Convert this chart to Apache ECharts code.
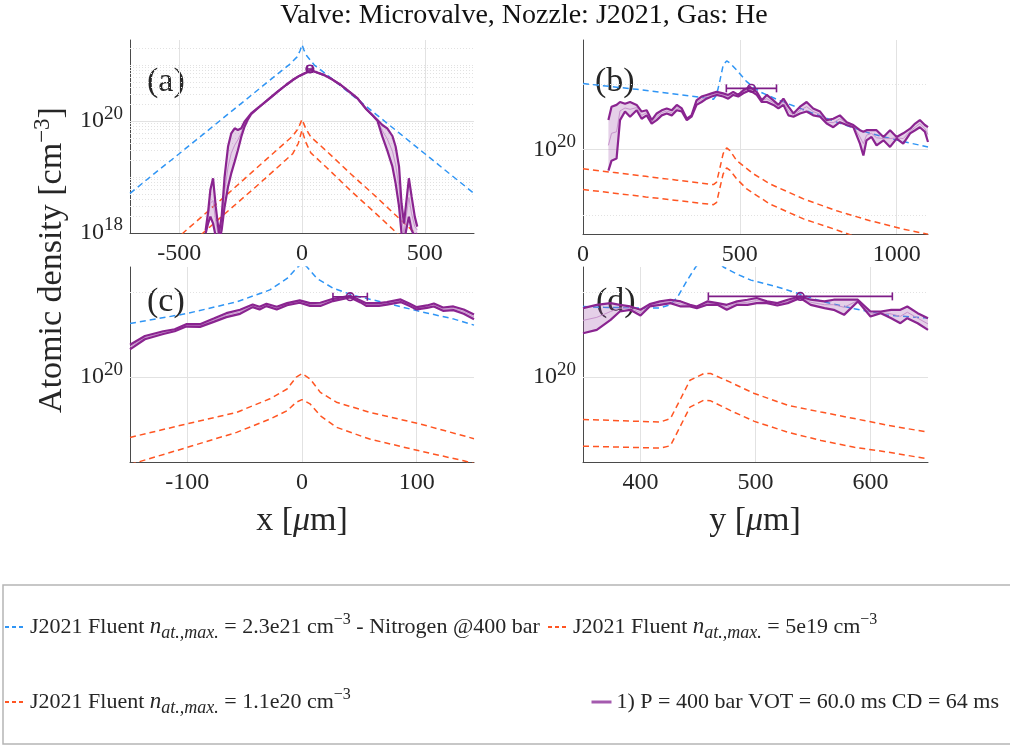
<!DOCTYPE html>
<html><head><meta charset="utf-8">
<script src="https://cdn.jsdelivr.net/npm/echarts@6/dist/echarts.min.js"></script>
<style>html,body{margin:0;padding:0;background:#fff}#c{width:1010px;height:747px}</style>
</head><body><div id="c"></div>
<script>
// ---------------- data ----------------
// panel (a): x-profile, x in um
const aBlueX = [-700,-600,-500,-400,-300,-200,-100,-50,-20,-8,0,8,20,50,100,200,300,400,500,600,700];
const aBlueY = [5.1e18,1.16e19,2.6e19,5.9e19,1.34e20,3.04e20,6.9e20,1.03e21,1.4e21,1.8e21,2.3e21,1.85e21,1.45e21,1.0e21,6.8e20,3.0e20,1.33e20,5.9e19,2.6e19,1.15e19,5.1e18];
const aOrHiX = [-550,-484,-400,-300,-200,-100,-38,-15,0,15,36,100,200,300,400,462,520];
const aOrHiY = [5.6e17,1.0e18,2.1e18,5.1e18,1.26e19,3.1e19,5.4e19,7.4e19,1.07e20,7.4e19,5.2e19,2.9e19,1.12e19,4.5e18,1.74e18,9.8e17,5.6e17];
const aOrLoX = [-470,-403,-300,-200,-100,-38,-15,0,15,36,100,200,300,388,450];
const aOrLoY = [5.5e17,1.0e18,2.5e18,6.0e18,1.48e19,2.6e19,4.0e19,6.9e19,4.2e19,2.7e19,1.48e19,5.6e18,2.24e18,9.8e17,5.5e17];
const aX   = [-392,-382,-373,-362,-351,-338,-327,-315,-301,-288,-274,-261,-247,-234,-220,-207,-173,-132,-99,-65,-38,-11,16,36,64,91,124,158,192,226,259,286,307,327,347,368,381,395,405,415,424,435,446,459,469];
const aUp  = [1.13e18,2.4e18,5.9e18,9.5e18,2.95e18,9.9e17,1.96e18,1.01e19,3.5e19,6.0e19,7.4e19,6.9e19,7.4e19,9.7e19,1.16e20,1.37e20,1.80e20,2.54e20,3.34e20,4.4e20,5.4e20,6.4e20,7.3e20,8.1e20,7.3e20,6.6e20,5.5e20,4.4e20,3.34e20,2.54e20,1.68e20,1.28e20,1.04e20,8.5e19,7.4e19,5.4e19,3.5e19,1.53e19,3.4e18,1.49e18,3.4e18,9.5e18,4.5e18,1.96e18,1.3e18];
const aLo  = [9.9e17,1.49e18,1.96e18,1.49e18,8.6e17,6.5e17,1.13e18,2.95e18,6.7e18,1.16e19,1.88e19,3.0e19,5.25e19,7.9e19,1.07e20,1.33e20,1.80e20,2.54e20,3.34e20,4.4e20,5.4e20,6.4e20,7.3e20,8.1e20,7.3e20,6.6e20,5.5e20,4.4e20,3.34e20,2.54e20,1.68e20,1.28e20,1.01e20,5.25e19,3.0e19,1.53e19,7.7e18,2.95e18,9.9e17,6.5e17,1.13e18,1.96e18,1.13e18,8.6e17,9.9e17];
const aMid = [1.06e18,1.89e18,3.4e18,3.8e18,1.6e18,8e17,1.49e18,5.5e18,1.5e19,2.65e19,3.7e19,4.6e19,6.2e19,8.8e19,1.11e20,1.35e20,1.80e20,2.54e20,3.34e20,4.4e20,5.4e20,6.4e20,7.3e20,8.1e20,7.3e20,6.6e20,5.5e20,4.4e20,3.34e20,2.54e20,1.68e20,1.28e20,1.03e20,6.7e19,4.8e19,2.9e19,1.65e19,6.7e18,1.8e18,9.9e17,1.96e18,4.3e18,2.2e18,1.3e18,1.13e18];

// panel (b): y-profile, y in um
const bBlueX = [0,171,277,384,416,426,437,447,458,469,490,522,564,617,703,809,915,1021,1100];
const bBlueY = [2.02e20,1.90e20,1.82e20,1.74e20,1.71e20,1.79e20,2.10e20,2.46e20,2.57e20,2.51e20,2.33e20,2.06e20,1.85e20,1.71e20,1.53e20,1.34e20,1.19e20,1.09e20,1.03e20];
const bOrHiX = [0,100,200,300,416,426,437,447,458,469,490,543,596,703,809,915,1021,1100];
const bOrHiY = [8.17e19,7.84e19,7.53e19,7.23e19,6.9e19,7.08e19,8.3e19,9.6e19,1.02e20,9.9e19,8.9e19,7.74e19,6.95e19,5.93e19,5.22e19,4.7e19,4.3e19,4.07e19];
const bOrLoX = [0,100,200,300,416,426,437,447,458,469,490,522,596,703,809,851,915];
const bOrLoY = [6.55e19,6.3e19,6.05e19,5.83e19,5.57e19,5.71e19,6.71e19,7.74e19,8.24e19,8.02e19,7.33e19,6.59e19,5.61e19,4.79e19,4.26e19,4.05e19,3.79e19];
const bX   = [81,91,107,118,134,150,171,187,203,219,235,251,267,283,299,315,331,346,362,378,394,410,426,447,463,479,495,511,532,554,570,586,607,623,639,655,671,692,713,734,756,777,798,819,841,862,883,894,904,920,936,958,979,1000,1021,1043,1059,1074,1090,1100];
const bUp  = [1.37e20,1.58e20,1.61e20,1.66e20,1.63e20,1.66e20,1.61e20,1.50e20,1.52e20,1.37e20,1.47e20,1.52e20,1.55e20,1.52e20,1.61e20,1.55e20,1.39e20,1.44e20,1.69e20,1.76e20,1.79e20,1.82e20,1.85e20,1.82e20,1.79e20,1.85e20,1.79e20,1.88e20,1.95e20,1.85e20,1.69e20,1.79e20,1.69e20,1.61e20,1.72e20,1.58e20,1.47e20,1.58e20,1.66e20,1.55e20,1.50e20,1.37e20,1.39e20,1.44e20,1.34e20,1.30e20,1.23e20,1.21e20,1.23e20,1.23e20,1.23e20,1.145e20,1.23e20,1.145e20,1.19e20,1.25e20,1.32e20,1.37e20,1.30e20,1.27e20];
const bLo  = [8.0e19,8.9e19,9.1e19,1.37e20,1.50e20,1.42e20,1.52e20,1.39e20,1.44e20,1.32e20,1.37e20,1.44e20,1.47e20,1.44e20,1.52e20,1.50e20,1.37e20,1.42e20,1.61e20,1.66e20,1.72e20,1.76e20,1.79e20,1.76e20,1.72e20,1.79e20,1.76e20,1.82e20,1.88e20,1.79e20,1.66e20,1.66e20,1.61e20,1.55e20,1.61e20,1.44e20,1.42e20,1.47e20,1.50e20,1.44e20,1.42e20,1.32e20,1.27e20,1.34e20,1.30e20,1.27e20,1.066e20,9.4e19,1.105e20,1.145e20,1.047e20,1.105e20,1.03e20,1.125e20,1.066e20,1.19e20,1.23e20,1.27e20,1.21e20,1.085e20];
const bMid = [1.047e20,1.19e20,1.21e20,1.51e20,1.558e20,1.536e20,1.564e20,1.44e20,1.482e20,1.34e20,1.42e20,1.482e20,1.509e20,1.482e20,1.564e20,1.52e20,1.38e20,1.43e20,1.649e20,1.709e20,1.76e20,1.79e20,1.82e20,1.79e20,1.76e20,1.82e20,1.772e20,1.85e20,1.92e20,1.82e20,1.68e20,1.72e20,1.649e20,1.58e20,1.66e20,1.509e20,1.44e20,1.52e20,1.58e20,1.50e20,1.456e20,1.34e20,1.332e20,1.39e20,1.32e20,1.285e20,1.145e20,1.066e20,1.166e20,1.19e20,1.135e20,1.125e20,1.125e20,1.135e20,1.125e20,1.218e20,1.27e20,1.32e20,1.25e20,1.176e20];

// panel (c): x-profile zoom
const cBlueX = [-150,-101,-57,-28,-13,-5,0,4,13,27,45,74,103,132,150];
const cBlueY = [1.55e20,1.68e20,1.85e20,2.04e20,2.24e20,2.43e20,2.54e20,2.47e20,2.24e20,2.07e20,1.95e20,1.83e20,1.71e20,1.61e20,1.53e20];
const cOrHiX = [-150,-101,-57,-28,-13,-5,0,7,16,30,59,103,150];
const cOrHiY = [6.11e19,6.82e19,7.5e19,8.38e19,9.08e19,1.0e20,1.03e20,9.86e19,8.83e19,8.15e19,7.5e19,6.82e19,6.05e19];
const cOrLoX = [-150,-101,-57,-28,-13,-5,0,7,16,30,59,103,141,150];
const cOrLoY = [4.9e19,5.62e19,6.37e19,7.1e19,7.6e19,8.15e19,8.32e19,8.04e19,7.3e19,6.64e19,6.03e19,5.47e19,5.05e19,4.94e19];
const cX   = [-150,-137,-121,-111,-101,-89,-77,-66,-54,-43,-37,-31,-22,-13,-2,7,16,27,42,51,56,67,74,86,94,100,109,115,123,132,141,150];
const cUp  = [1.304e20,1.40e20,1.455e20,1.479e20,1.542e20,1.542e20,1.615e20,1.687e20,1.734e20,1.81e20,1.777e20,1.821e20,1.777e20,1.831e20,1.872e20,1.831e20,1.837e20,1.897e20,1.945e20,1.872e20,1.831e20,1.831e20,1.847e20,1.888e20,1.821e20,1.772e20,1.797e20,1.826e20,1.767e20,1.782e20,1.739e20,1.669e20];
const cLo  = [1.255e20,1.363e20,1.423e20,1.455e20,1.512e20,1.508e20,1.571e20,1.633e20,1.678e20,1.772e20,1.739e20,1.787e20,1.739e20,1.80e20,1.837e20,1.79e20,1.79e20,1.862e20,1.919e20,1.842e20,1.79e20,1.79e20,1.81e20,1.847e20,1.787e20,1.739e20,1.762e20,1.782e20,1.719e20,1.729e20,1.678e20,1.606e20];
const cMid = [1.28e20,1.38e20,1.44e20,1.467e20,1.527e20,1.525e20,1.593e20,1.66e20,1.706e20,1.791e20,1.758e20,1.804e20,1.758e20,1.815e20,1.855e20,1.81e20,1.813e20,1.88e20,1.932e20,1.857e20,1.81e20,1.81e20,1.828e20,1.867e20,1.804e20,1.755e20,1.78e20,1.804e20,1.743e20,1.755e20,1.708e20,1.637e20];

// panel (d): y-profile zoom
const dBlueX = [350,368,397,417,426,432,437,441,448,458,465,472,484,496,519,539,557,586,615,650];
const dBlueY = [1.78e20,1.77e20,1.76e20,1.76e20,1.81e20,1.92e20,2.08e20,2.22e20,2.46e20,2.75e20,2.65e20,2.46e20,2.32e20,2.21e20,2.09e20,1.97e20,1.86e20,1.75e20,1.66e20,1.62e20];
const dOrX   = [350,417,426,435,443,455,461,478,499,528,557,586,615,650];
const dOrHiY = [7.08e19,6.93e19,7.13e19,8.4e19,9.75e19,1.03e20,1.03e20,9.6e19,8.75e19,7.95e19,7.52e19,7.13e19,6.75e19,6.38e19];
const dOrLoY = [5.69e19,5.6e19,5.71e19,6.74e19,7.83e19,8.28e19,8.24e19,7.62e19,6.97e19,6.38e19,5.96e19,5.64e19,5.42e19,5.13e19];
const dX   = [350,362,374,382,391,400,408,417,426,435,443,449,458,467,475,484,493,501,510,519,528,539,548,560,568,577,589,600,609,618,626,632,641,650];
const dUp  = [1.758e20,1.806e20,1.831e20,1.806e20,1.782e20,1.734e20,1.816e20,1.857e20,1.883e20,1.857e20,1.806e20,1.782e20,1.857e20,1.831e20,1.806e20,1.857e20,1.883e20,1.909e20,1.857e20,1.831e20,1.883e20,1.935e20,1.883e20,1.857e20,1.883e20,1.883e20,1.883e20,1.71e20,1.71e20,1.734e20,1.734e20,1.782e20,1.687e20,1.619e20];
const dLo  = [1.432e20,1.472e20,1.597e20,1.71e20,1.734e20,1.655e20,1.782e20,1.806e20,1.831e20,1.782e20,1.782e20,1.758e20,1.806e20,1.806e20,1.734e20,1.806e20,1.806e20,1.831e20,1.831e20,1.796e20,1.831e20,1.909e20,1.806e20,1.758e20,1.734e20,1.664e20,1.857e20,1.641e20,1.687e20,1.619e20,1.554e20,1.619e20,1.554e20,1.472e20];
const dMid = [1.59e20,1.63e20,1.71e20,1.758e20,1.758e20,1.694e20,1.799e20,1.831e20,1.857e20,1.819e20,1.794e20,1.77e20,1.831e20,1.818e20,1.77e20,1.831e20,1.844e20,1.87e20,1.844e20,1.813e20,1.857e20,1.922e20,1.844e20,1.807e20,1.808e20,1.77e20,1.87e20,1.675e20,1.698e20,1.676e20,1.644e20,1.70e20,1.62e20,1.545e20];

// peak markers with horizontal error bars (a,b,c,d)
const markX   = [32, 537, 42, 539];
const markY   = [8.5e20, 1.92e20, 1.93e20, 1.935e20];
const markErr = [10, 80, 15, 80];

// axis ranges and tick labels
const xMin = [-700, 0, -150, 350];
const xMax = [700, 1100, 150, 650];
const xStep = [100, 100, 50, 50];
const xLabelStep = [500, 500, 100, 100];
const xGrid = [[-500,0,500],[500,1000],[-100,0,100],[400,500,600]];
const yMin = [1e18, 4.08e19, 5e19, 5e19];
const yMax = [2.8e21, 3.21e20, 2.46e20, 2.46e20];
const yMajor = [[1e20],[1e20],[1e20],[1e20]];
const yMinor = [
  [2e18,3e18,4e18,5e18,6e18,7e18,8e18,9e18,1e19,2e19,3e19,4e19,5e19,6e19,7e19,8e19,9e19,2e20,3e20,4e20,5e20,6e20,7e20,8e20,9e20,1e21,2e21],
  [5e19,2e20],[2e20],[2e20]];
const yTickLabels = [[[1e18,'18'],[1e20,'20']],[[1e20,'20']],[[1e20,'20']],[[1e20,'20']]];

const N_BLUE = 'J2021 Fluent 2.3e21 Nitrogen';
const N_OR1  = 'J2021 Fluent 5e19';
const N_OR2  = 'J2021 Fluent 1.1e20';
const N_PUR  = '1) P = 400 bar VOT = 60.0 ms CD = 64 ms';

// ---------------- styling ----------------
const FONT = 'Liberation Serif';
const TXT = '#262626';
const AX = '#4a4a4a';
const BLUE = '#2f95f5';
const ORANGE = '#ff5522';
const PUR = '#8a2490';
const PURMID = '#c792cc';
const PURFILL = 'rgba(160,80,170,0.27)';
const PURD = '#7f1d88';
const MAJ = {color:'#e2e2e2', width:1, type:'solid'};
const MIN = {color:'#e2e2e2', width:1, type:[1,2]};

const grids = [
  {left:130, top:40, width:344, height:193},
  {left:583, top:40, width:345, height:194},
  {left:130, top:267, width:344, height:195},
  {left:583, top:267, width:345, height:195}
].map(g => Object.assign(g, {containLabel:false, outerBoundsMode:'none'}));

const xAxes = [0,1,2,3].map(i => ({
  gridIndex:i, type:'value', min:xMin[i], max:xMax[i], interval:xStep[i],
  axisLine:{show:true, onZero:false, lineStyle:{color:AX, width:1}},
  axisTick:{show:false}, splitLine:{show:false},
  axisLabel:{show:true, interval:0, margin:9, fontFamily:FONT, fontSize:24, color:TXT,
    hideOverlap:false,
    formatter: v => (Math.abs(v % xLabelStep[i]) < 1e-9 ? String(v) : '')}
}));
const yAxes = [0,1,2,3].map(i => ({
  gridIndex:i, type:'log', logBase:10, min:yMin[i], max:yMax[i],
  axisLine:{show:true, onZero:false, lineStyle:{color:AX, width:1}},
  axisTick:{show:false}, axisLabel:{show:false}, splitLine:{show:false}
}));

const RICH_T = {
  b:{fontFamily:FONT, fontSize:24, lineHeight:34, color:TXT},
  s:{fontFamily:FONT, fontSize:19, lineHeight:13, verticalAlign:'top', color:TXT}
};

function gridSeries(i){
  const d = [];
  xGrid[i].forEach(v => d.push({xAxis:v, lineStyle:MAJ}));
  yMinor[i].forEach(v => d.push({yAxis:v, lineStyle:MIN}));
  yMajor[i].forEach(v => d.push({yAxis:v, lineStyle:MAJ}));
  yTickLabels[i].forEach(([v,e]) => d.push({yAxis:v, lineStyle:{color:'rgba(0,0,0,0)'},
    label:{show:true, position:'start', distance:7, color:TXT, formatter:'{b|10}{s|'+e+'}', rich:RICH_T}}));
  return {type:'line', xAxisIndex:i, yAxisIndex:i, data:[[xMin[i], yMin[i]]], symbol:'none',
    lineStyle:{width:0, opacity:0}, silent:true, z:1, animation:false,
    markLine:{silent:true, symbol:['none','none'], animation:false, z:1, label:{show:false}, data:d}};
}
function line(i, name, xs, ys, color, width, dash, z){
  return {type:'line', name, xAxisIndex:i, yAxisIndex:i, data:xs.map((x,k)=>[x, ys[k]]),
    symbol:'none', showSymbol:false, silent:true, z, animation:false, clip:true,
    lineStyle:{color, width, type:dash||'solid'}, itemStyle:{color}};
}
function band(i, xs, up, lo){
  return {type:'custom', xAxisIndex:i, yAxisIndex:i, z:3, silent:true, animation:false,
    data: xs.map((x,k)=>[x, up[k]]),
    renderItem(params, api){
      if (params.dataIndex !== 0) return null;
      const pts = [];
      for (let k=0;k<xs.length;k++) pts.push(api.coord([xs[k], up[k]]));
      for (let k=xs.length-1;k>=0;k--) pts.push(api.coord([xs[k], lo[k]]));
      const cs = params.coordSys;
      return {type:'polygon', shape:{points:pts}, style:{fill:PURFILL, stroke:null},
        clipPath:{type:'rect', shape:{x:cs.x, y:cs.y, width:cs.width, height:cs.height}}};
    }};
}
function errBar(i){
  return {type:'custom', xAxisIndex:i, yAxisIndex:i, z:8, silent:true, animation:false,
    data:[[markX[i], markY[i], markErr[i]]],
    renderItem(params, api){
      const x=api.value(0), y=api.value(1), e=api.value(2);
      const c=api.coord([x,y]), l=api.coord([x-e,y]), r=api.coord([x+e,y]);
      const st={stroke:PURD, lineWidth:1.6, fill:null};
      return {type:'group', children:[
        {type:'line', shape:{x1:l[0],y1:l[1],x2:r[0],y2:r[1]}, style:st},
        {type:'line', shape:{x1:l[0],y1:l[1]-4,x2:l[0],y2:l[1]+4}, style:st},
        {type:'line', shape:{x1:r[0],y1:r[1]-4,x2:r[0],y2:r[1]+4}, style:st},
        {type:'circle', shape:{cx:c[0],cy:c[1],r:3.8}, style:{stroke:PURD, lineWidth:1.6, fill:'rgba(255,255,255,0.01)'}}
      ]};
    }};
}

const DASH = [6,4];
const panels = [
  {bx:aBlueX, by:aBlueY, ohx:aOrHiX, ohy:aOrHiY, olx:aOrLoX, oly:aOrLoY, x:aX, up:aUp, lo:aLo, mid:aMid},
  {bx:bBlueX, by:bBlueY, ohx:bOrHiX, ohy:bOrHiY, olx:bOrLoX, oly:bOrLoY, x:bX, up:bUp, lo:bLo, mid:bMid},
  {bx:cBlueX, by:cBlueY, ohx:cOrHiX, ohy:cOrHiY, olx:cOrLoX, oly:cOrLoY, x:cX, up:cUp, lo:cLo, mid:cMid},
  {bx:dBlueX, by:dBlueY, ohx:dOrX, ohy:dOrHiY, olx:dOrX, oly:dOrLoY, x:dX, up:dUp, lo:dLo, mid:dMid}
];
const series = [];
panels.forEach((p,i) => {
  series.push(gridSeries(i));
  series.push(line(i, N_BLUE, p.bx, p.by, BLUE, 1.5, DASH, 2));
  series.push(line(i, N_OR2, p.ohx, p.ohy, ORANGE, 1.5, DASH, 2));
  series.push(line(i, N_OR1, p.olx, p.oly, ORANGE, 1.5, DASH, 2));
  series.push(band(i, p.x, p.up, p.lo));
  series.push(line(i, N_PUR+' mid', p.x, p.mid, PURMID, 1, 'solid', 4));
  series.push(line(i, N_PUR, p.x, p.up, PUR, 2.2, 'solid', 5));
  series.push(line(i, N_PUR+' lo', p.x, p.lo, PUR, 2.2, 'solid', 5));
  series.push(errBar(i));
});

const LRICH = {
  i:{fontFamily:FONT, fontSize:23, fontStyle:'italic', color:TXT, lineHeight:30},
  sub:{fontFamily:FONT, fontSize:18, fontStyle:'italic', color:TXT, lineHeight:22, verticalAlign:'bottom'},
  sup:{fontFamily:FONT, fontSize:16, color:TXT, lineHeight:18, verticalAlign:'top'}
};
function legendAt(left, top, name, fmt, lineStyle){
  return {left, top, padding:0, orient:'horizontal', itemWidth:20, itemHeight:12, itemGap:0,
    selectedMode:false, data:[name], formatter:fmt, itemStyle:{opacity:0},
    lineStyle: lineStyle || {type:[4,3]},
    textStyle:{fontFamily:FONT, fontSize:22, color:TXT, lineHeight:30, rich:LRICH}};
}

const T = (x, y, text, size, opts) => Object.assign({type:'text', x, y, silent:true,
  style:Object.assign({text, fontFamily:FONT, fontSize:size, fill:TXT, align:'left', verticalAlign:'middle',
    textAlign:'left', textVerticalAlign:'middle'}, (opts && opts.style) || {})}, (opts && opts.el) || {});

const AXT = {b:{fontFamily:FONT, fontSize:34, fill:TXT, color:TXT}, i:{fontFamily:FONT, fontSize:34, fontStyle:'italic', fill:TXT, color:TXT}};

const option = {
  animation:false,
  backgroundColor:'#ffffff',
  grid: grids, xAxis: xAxes, yAxis: yAxes, series,
  legend: [
    legendAt(4, 612, N_BLUE, 'J2021 Fluent {i|n}{sub|at.,max.} = 2.3e21 cm{sup|−3} - Nitrogen @400 bar'),
    legendAt(547, 612, N_OR1, 'J2021 Fluent {i|n}{sub|at.,max.} = 5e19 cm{sup|−3}'),
    legendAt(4, 687, N_OR2, 'J2021 Fluent {i|n}{sub|at.,max.} = 1.1e20 cm{sup|−3}'),
    legendAt(590, 687, N_PUR, '1) P = 400 bar VOT = 60.0 ms CD = 64 ms', {color:'#a45aae', width:3, type:'solid'})
  ],
  graphic: [
    {type:'rect', z:-10, silent:true, shape:{x:3, y:585, width:1040, height:159},
      style:{fill:'#ffffff', stroke:'#b5b5b5', lineWidth:1.5}},
    T(524, 16, 'Valve: Microvalve, Nozzle: J2021, Gas: He', 28, {style:{fill:'#111', align:'center', textAlign:'center'}}),
    T(147, 82, '(a)', 34), T(595, 82, '(b)', 34), T(147, 302, '(c)', 34), T(596, 302, '(d)', 34),
    {type:'text', x:52, y:260, rotation:Math.PI/2, silent:true,
      style:{text:'{b|Atomic density [cm}{s|−3}{b|]}', align:'center', verticalAlign:'middle',
        textAlign:'center', textVerticalAlign:'middle', fill:TXT,
        rich:{b:{fontFamily:FONT, fontSize:34, lineHeight:42, fill:TXT, color:TXT},
              s:{fontFamily:FONT, fontSize:23, lineHeight:18, verticalAlign:'top', fill:TXT, color:TXT}}}},
    {type:'text', x:302, y:521, silent:true,
      style:{text:'{b|x [}{i|μ}{b|m]}', align:'center', verticalAlign:'middle', textAlign:'center', textVerticalAlign:'middle', fill:TXT, rich:AXT}},
    {type:'text', x:755, y:521, silent:true,
      style:{text:'{b|y [}{i|μ}{b|m]}', align:'center', verticalAlign:'middle', textAlign:'center', textVerticalAlign:'middle', fill:TXT, rich:AXT}}
  ]
};
const chart = echarts.init(document.getElementById('c'), null, {renderer:'canvas'});
chart.setOption(option);
</script>
</body></html>
